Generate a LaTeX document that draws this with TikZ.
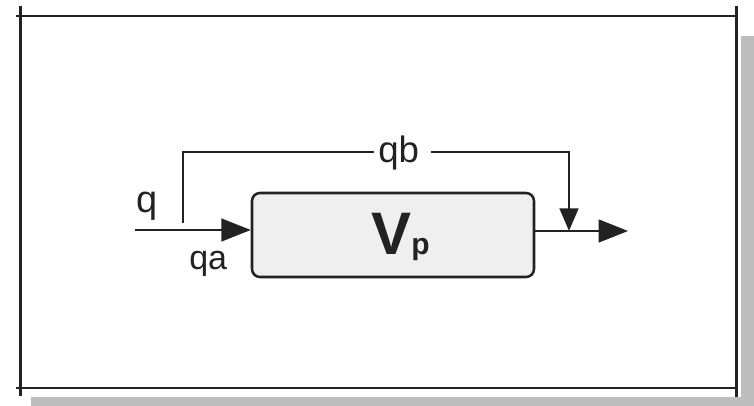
\documentclass[tikz,border=0pt]{standalone}
\usepackage{fontspec}
\setmainfont{Liberation Sans}
\usetikzlibrary{arrows.meta}
\definecolor{shadowgray}{HTML}{BDBDBD}
\definecolor{boxfill}{HTML}{EFEFEF}
\definecolor{ink}{HTML}{222222}
\begin{document}
\begin{tikzpicture}[x=0.75pt,y=-0.75pt,
  frameline/.style={line width=2.2pt, draw=ink},
  flow/.style={line width=1.9pt, draw=ink},
  bigtip/.style={-{Triangle[length=22pt,width=17pt]}},
  smalltip/.style={-{Triangle[length=17pt,width=14pt]}},
  vessel/.style={draw=ink, line width=1.9pt, fill=boxfill, rounded corners=6pt,
    minimum width=211.5pt, minimum height=63pt, inner sep=0pt},
  lbl/.style={inner sep=0pt, anchor=base west, text=ink},
]
\useasboundingbox (0,0) rectangle (754,406);
% shadow
\fill[shadowgray] (741,36) rectangle (754,406);
\fill[shadowgray] (31,397) rectangle (754,406);
% frame
\draw[frameline] (16,16) -- (737,16);
\draw[frameline] (16,388) -- (737,388);
\draw[frameline] (20.5,6) -- (20.5,396);
\draw[frameline] (736.5,6) -- (736.5,397);
% vessel
\node[vessel] (box) at (393,235) {};
\node[lbl, font=\fontsize{45}{50}\selectfont\bfseries] (vp) at (371,255) {V\fontsize{22.5}{25}\selectfont p};
% labels
\node[lbl, font=\fontsize{28.5}{32}\selectfont] (q) at (136,213) {q};
\node[lbl, font=\fontsize{25.5}{28}\selectfont] (qa) at (189,270) {qa};
\node[lbl, font=\fontsize{27.5}{30}\selectfont, inner xsep=3pt] (qb) at (374,163) {qb};
% coordinates
\coordinate (in) at (135,230);
\coordinate (bys) at (183,223);
\coordinate (tl) at (183,152);
\coordinate (tr) at (569,152);
\coordinate (merge) at (569,231);
\coordinate (out) at (628,231);
% flows
\draw[flow, bigtip] (in) -- (in -| box.west);
\draw[flow] (bys) -- (tl) -- (tl -| qb.west);
\draw[flow, smalltip] ([xshift=6pt]qb.east |- tl) -- (tr) -- (merge);
\draw[flow, bigtip] (box.east |- merge) -- (out);
\end{tikzpicture}
\end{document}
